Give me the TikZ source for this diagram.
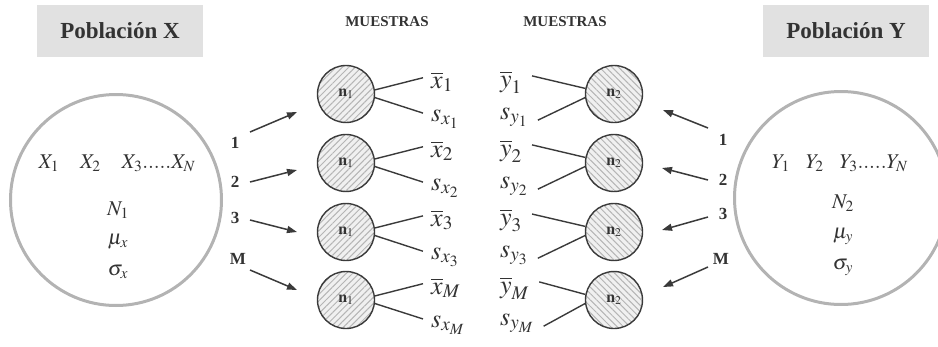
\documentclass[tikz,border=0pt]{standalone}
\usepackage{mathptmx}
\usepackage[no-math]{fontspec}
\setmainfont{Liberation Serif}
\usetikzlibrary{arrows.meta,positioning,patterns.meta}
\definecolor{pbtext}{HTML}{333333}
\definecolor{pbbox}{HTML}{E1E1E1}
\definecolor{pbring}{HTML}{B3B3B3}
\definecolor{pbedge}{HTML}{3A3A3A}
\definecolor{pbfill}{HTML}{F0F0F0}
\definecolor{pbhatch}{HTML}{B5B5B5}

\tikzset{
  popbox/.style={fill=pbbox, minimum width=166pt, minimum height=52pt, text=pbtext,
    font=\bfseries\fontsize{23}{25}\selectfont},
  popring/.style={circle, draw=pbring, line width=3pt, minimum size=#1},
  sampdisc/.style={circle, draw=pbedge, line width=1.4pt, preaction={fill=pbfill},
    minimum size=57pt, inner sep=0pt, text=pbtext, font=\fontsize{16}{16}\selectfont},
  hatchne/.style={pattern={Lines[angle=45,distance=4.5pt,line width=1pt]}, pattern color=pbhatch},
  hatchnw/.style={pattern={Lines[angle=-45,distance=4.5pt,line width=1pt]}, pattern color=pbhatch},
  stat/.style={inner sep=0pt, text=pbtext, font=\fontsize{26}{30}\selectfont},
  popmath/.style={anchor=base, inner sep=0pt, text=pbtext, font=\fontsize{21}{24}\selectfont},
  colhead/.style={text=pbtext, font=\bfseries\fontsize{15}{15}\selectfont},
  idx/.style={inner sep=0pt, text=pbtext, font=\bfseries\fontsize{17}{17}\selectfont},
  link/.style={draw=pbedge, line width=1.4pt},
  pick/.style={draw=pbedge, line width=1.5pt, -{Triangle[length=10pt,width=7pt]}},
}

\begin{document}
\begin{tikzpicture}[x=1pt,y=-1pt]
\useasboundingbox (0,0) rectangle (938,346);

% populations
\node[popbox] (popx) at (120,31) {Población X};
\node[popbox] (popy) at (846,31) {Población Y};
\node[popring=211pt] (ringx) at (116,200) {};
\node[popring=213pt] (ringy) at (841,198) {};

\node[popmath] (xs) at (117,168) {$X_1\quad X_2\quad X_3.....X_N$};
\node[popmath] (nx) at (118,215) {$N_1$};
\node[popmath] (mux) at (118,244) {$\mu_x$};
\node[popmath] (sgx) at (118,275) {$\sigma_x$};

\node[popmath] (ys) at (840,168) {$Y_1\hspace{16pt}Y_2\hspace{16pt}Y_3.....Y_N$};
\node[popmath] (ny) at (843,208) {$N_2$};
\node[popmath] (muy) at (843,238) {$\mu_y$};
\node[popmath] (sgy) at (843,269) {$\sigma_y$};

\node[colhead] (hx) at (387,22) {MUESTRAS};
\node[colhead] (hy) at (565,22) {MUESTRAS};

% samples
\foreach \k/\yc/\sub in {1/94/1,2/163/2,3/232/3,4/300/M} {
  \node[sampdisc,hatchne] (m\k) at (346,\yc) {$\mathbf{n}_1$};
  \node[sampdisc,hatchnw] (d\k) at (614,\yc) {$\mathbf{n}_2$};
  \node[stat,anchor=base west] (xb\k) at (431,\yc-6) {$\overline{x}_{\sub}$};
  \node[stat,anchor=base west] (sx\k) at (431,\yc+27) {$s_{x_{\sub}}$};
  \node[stat,anchor=base west] (yb\k) at (500,\yc-7) {$\overline{y}_{\sub}$};
  \node[stat,anchor=base west] (sy\k) at (500,\yc+25) {$s_{y_{\sub}}$};
  \draw[link] (m\k.8) -- ([xshift=-8pt,yshift=4pt]xb\k.west);
  \draw[link] (m\k.-7) -- ([xshift=-8pt,yshift=6pt]sx\k.west);
  \draw[link] (d\k.169) -- ([xshift=10pt,yshift=6pt]yb\k.east);
  \draw[link] (d\k.187) -- ([xshift=10pt,yshift=-3pt]sy\k.east);
}

% sample indices
\node[idx] (lx1) at (235,143) {1};
\node[idx] (lx2) at (235,182) {2};
\node[idx] (lx3) at (235,218) {3};
\node[idx] (lx4) at (238,259) {M};
\node[idx] (ly1) at (723,140) {1};
\node[idx] (ly2) at (723,180) {2};
\node[idx] (ly3) at (723,214) {3};
\node[idx] (ly4) at (721,259) {M};

\coordinate (ax1) at (250,132); \coordinate (bx1) at (297,112);
\coordinate (ax2) at (250,182); \coordinate (bx2) at (297,170);
\coordinate (ax3) at (250,220); \coordinate (bx3) at (297,232);
\coordinate (ax4) at (250,270); \coordinate (bx4) at (297,290);
\coordinate (ay1) at (708,128); \coordinate (by1) at (663,110);
\coordinate (ay2) at (708,180); \coordinate (by2) at (662,168);
\coordinate (ay3) at (708,217); \coordinate (by3) at (662,230);
\coordinate (ay4) at (708,267); \coordinate (by4) at (663,287);
\foreach \k in {1,...,4} {
  \draw[pick] (ax\k) -- (bx\k);
  \draw[pick] (ay\k) -- (by\k);
}
\end{tikzpicture}
\end{document}
